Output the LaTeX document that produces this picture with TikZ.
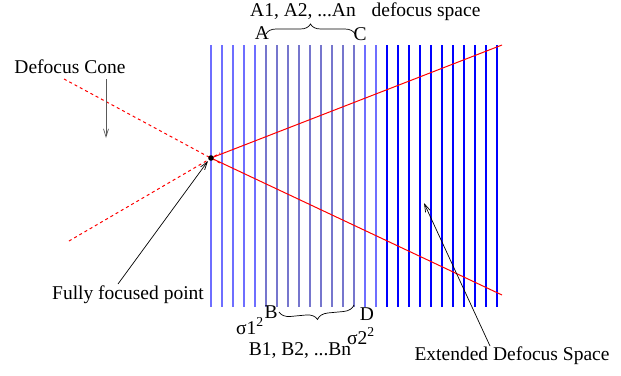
\documentclass[tikz,border=0pt]{standalone}
\usepackage{fontspec}
\setmainfont{Liberation Serif}
\usetikzlibrary{arrows.meta,decorations.pathreplacing}
\definecolor{lightblue}{RGB}{110,110,255}
\definecolor{grayblue}{RGB}{118,118,205}
\definecolor{pureblue}{RGB}{0,0,255}
\definecolor{lred}{RGB}{255,0,0}
\begin{document}
\begin{tikzpicture}[x=1pt,y=-1pt,
  lbl/.style={font=\fontsize{19.5}{22}\selectfont, inner sep=0pt},
  vline/.style={line width=1.25pt},
  ray/.style={lred, line width=1pt},
  dray/.style={lred, line width=1pt, dash pattern=on 3pt off 3pt},
  pointer/.style={line width=0.7pt, -{Straight Barb[length=8pt,width=5pt]}},
  bracestyle/.style={line width=0.7pt, decorate}
]
\useasboundingbox (0,0) rectangle (621,375);
% vertical lines
\foreach \xx in {211,222,233,244,255,365,376}
  \draw[vline, lightblue] (\xx,45) -- (\xx,307);
\foreach \xx in {266,277,288,299,310,321,332,343,354}
  \draw[vline, grayblue] (\xx,45) -- (\xx,307);
\foreach \xx in {387,398,409,420,431,442,453,464,475,486,497}
  \draw[vline, pureblue] (\xx,45) -- (\xx,307);
% focal point and rays
\coordinate (F) at (211,158);
\coordinate (U) at (502,45);
\coordinate (L) at (502,295);
\coordinate (DU) at (64,79);
\coordinate (DL) at (69,241);
\coordinate (DUe) at (220,163);
\coordinate (DLe) at (220,153);
\draw[ray] (F) -- (U);
\draw[ray] (F) -- (L);
\draw[dray] (DU) -- (DUe);
\draw[dray] (DL) -- (DLe);
\fill (F) circle (2.8pt);
% labels
\node[lbl] (cone) at (70,67) {Defocus Cone};
\coordinate (conetip) at (106,138);
\draw[pointer, black!65] (106,79) -- (conetip);
\node[lbl] (ffp) at (128,295) {Fully focused point};
\coordinate (ffptip) at (208,161);
\draw[pointer] (118,284) -- (ffptip);
\node[lbl] (eds) at (512,356) {Extended Defocus Space};
\coordinate (edstip) at (424,203);
\draw[pointer] (490,346) -- (edstip);
% top brace
\node[lbl] (an) at (303,12) {A1, A2, ...An};
\node[lbl] (ds) at (426,12) {defocus space};
\node[lbl] (A) at (262,33) {A};
\node[lbl] (C) at (360,34) {C};
\coordinate (ba) at (266,34);
\coordinate (bc) at (355,34);
\draw[bracestyle, decoration={brace, amplitude=10pt}] (ba) -- (bc);
% bottom brace
\node[lbl] (B) at (271,312) {B};
\node[lbl] (D) at (367,314) {D};
\node[lbl] (s1) at (250,326) {σ1\textsuperscript{2}};
\node[lbl] (s2) at (361,336) {σ2\textsuperscript{2}};
\node[lbl] (bn) at (300,351) {B1, B2, ...Bn};
\coordinate (bd) at (354,305);
\coordinate (bb) at (279,312);
\draw[bracestyle, decoration={brace, amplitude=11pt}] (bd) -- (bb);
\end{tikzpicture}
\end{document}
